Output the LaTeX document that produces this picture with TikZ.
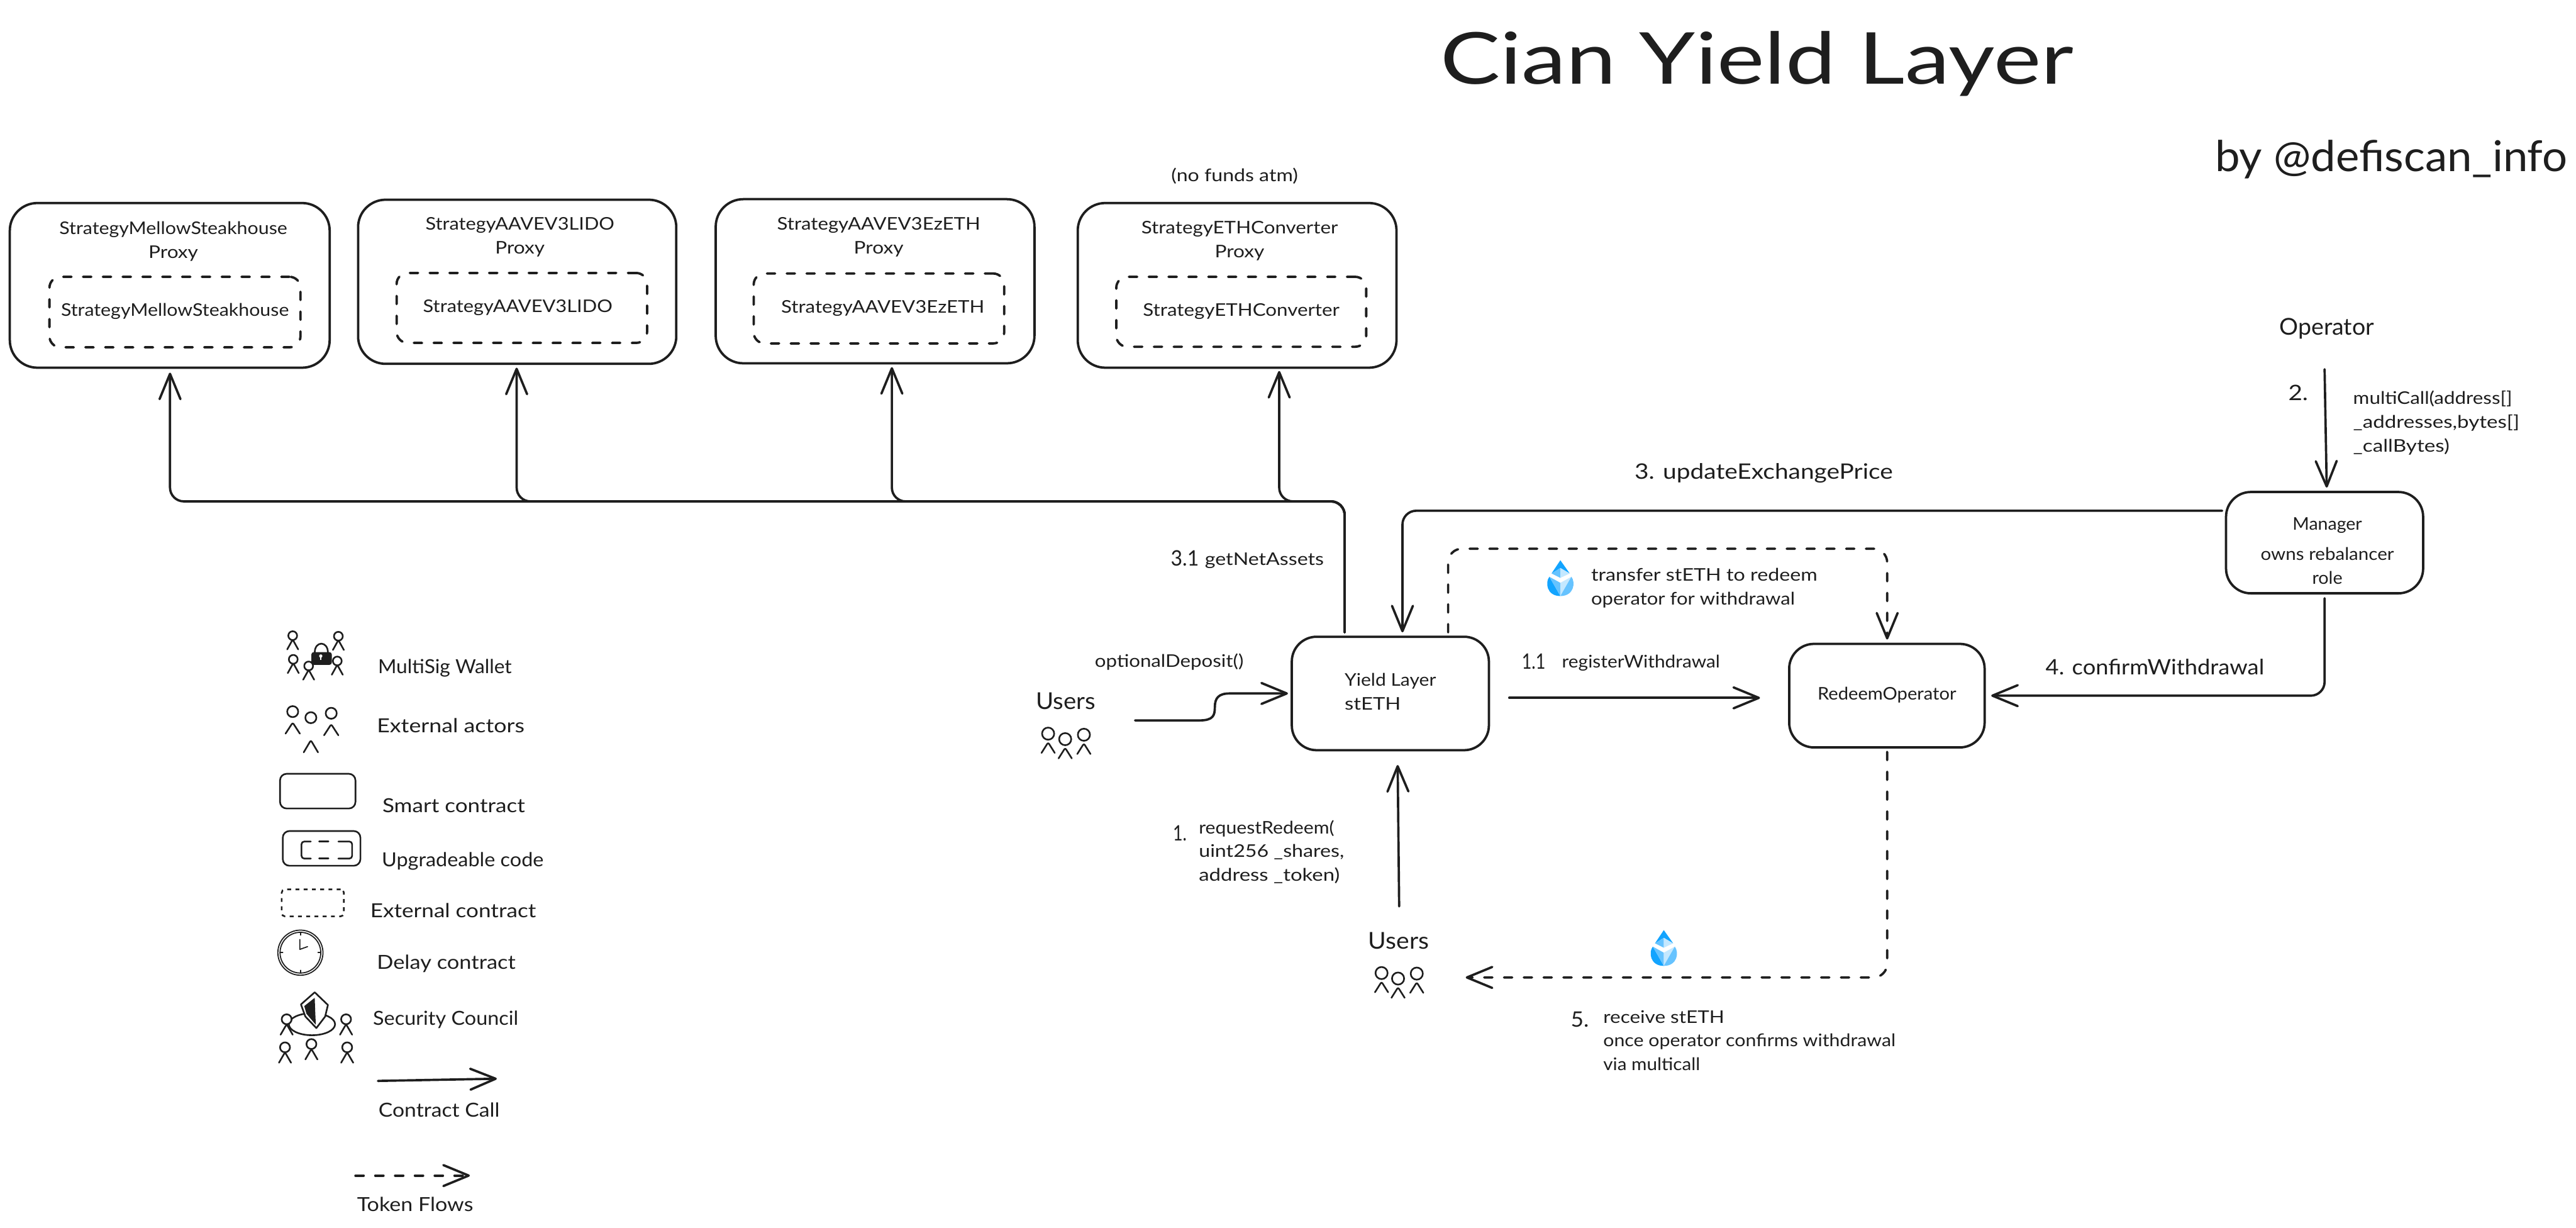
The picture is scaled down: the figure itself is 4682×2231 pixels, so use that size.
\documentclass[tikz,border=0pt]{standalone}
\usepackage{fontspec}
\usepackage{graphicx}
\setmainfont{Lato}
\usetikzlibrary{arrows.meta,calc}
\definecolor{ink}{HTML}{1E1E1E}
\definecolor{dropA}{HTML}{12A4FF}
\definecolor{dropB}{HTML}{66C3FF}
\definecolor{dropC}{HTML}{C4E8FF}
\newcommand\fit[2]{\resizebox{#1}{\height}{\strut #2}}
\newcommand\person[6]{\begin{scope}[shift={(#1,#2)}]
  \draw[icon,rounded corners=0.03cm] (-#6,#5) -- (0,#4) -- (#6,#5);
  \draw[icon,fill=white] (0,0) circle[radius=#3];
\end{scope}}
\newcommand\dropicon[2]{\begin{scope}[shift={(#1,#2)}]
  \fill[dropA] (0,-32) -- (-16,-8) -- (0,-18) -- (17,-8) -- cycle;
  \fill[dropB] (-16,-8) -- (0,-18) -- (0,0) -- cycle;
  \fill[dropC] (0,-18) -- (17,-8) -- (0,0) -- cycle;
  \fill[dropA] (-20,-2) .. controls (-28,8) and (-25,33) .. (0,33) -- cycle;
  \fill[dropB] (-20,-2) -- (0,9) -- (0,33) -- cycle;
  \fill[dropC] (20,-2) -- (0,9) -- (0,33) -- cycle;
  \fill[dropB] (20,-2) .. controls (28,8) and (25,33) .. (0,33) -- cycle;
\end{scope}}
\tikzset{
  tx/.style={inner sep=0pt,outer sep=0pt,text=ink,yshift=-0.05cm},
  f9/.style={font=\fontsize{9}{11.3}\selectfont},
  f10/.style={font=\fontsize{10}{11.4}\selectfont},
  f11/.style={font=\fontsize{11}{12.5}\selectfont},
  f12/.style={font=\fontsize{12}{14}\selectfont},
  box/.style={draw=ink,line width=.043cm,rounded corners=0.45cm,inner sep=0pt,outer sep=0pt,text=ink},
  outerbox/.style={box,rounded corners=0.5cm},
  innerbox/.style={box,rounded corners=0.2cm,line cap=round,dash pattern=on 0.15cm off 0.21cm,font=\fontsize{9}{11.3}\selectfont},
  call/.style={draw=ink,line width=.042cm,line cap=round,line join=round,rounded corners=0.25cm,-{Straight Barb[length=0.46cm,width=0.38cm,round]}},
  flow/.style={call,dash pattern=on 0.15cm off 0.21cm},
  icon/.style={draw=ink,line width=.03cm,line cap=round,line join=round},
  lgbox/.style={box,line width=.03cm},
}
\begin{document}
\begin{tikzpicture}[x=0.01cm,y=-0.01cm]
\fill[white] (0,0) rectangle (4682,2231);
\useasboundingbox (0,0) rectangle (4682,2231);

% title
\node[tx,anchor=base west,font=\fontsize{37}{42}\selectfont] (title) at (2618,148) {\fit{11.5cm}{Cian Yield Layer}};
\node[tx,anchor=base west,font=\fontsize{22}{26}\selectfont] (byline) at (4026,307) {\fit{6.4cm}{by @defiscan\_info}};

% strategy boxes
\node[outerbox,minimum width=5.81cm,minimum height=2.99cm] (s1) at (308.5,518.5) {};
\node[outerbox,minimum width=5.78cm,minimum height=2.98cm] (s2) at (940,512) {};
\node[outerbox,minimum width=5.79cm,minimum height=2.98cm] (s3) at (1590.5,511) {};
\node[outerbox,minimum width=5.79cm,minimum height=2.99cm] (s4) at (2248.5,518.5) {};
\node[innerbox,minimum width=4.56cm,minimum height=1.28cm] (i1) at (318,567) {\raisebox{-0.09cm}{\fit{4.14cm}{StrategyMellowSteakhouse}}};
\node[innerbox,minimum width=4.55cm,minimum height=1.27cm] (i2) at (948.5,559.5) {\fit{3.44cm}{StrategyAAVEV3LIDO}\kern0.15cm};
\node[innerbox,minimum width=4.55cm,minimum height=1.27cm] (i3) at (1597.5,560.5) {\kern0.14cm\fit{3.69cm}{StrategyAAVEV3EzETH}};
\node[innerbox,minimum width=4.54cm,minimum height=1.27cm] (i4) at (2256,566.5) {\fit{3.57cm}{StrategyETHConverter}};
\node[tx,f9,align=center] (p1) at (315,435) {\fit{4.14cm}{StrategyMellowSteakhouse}\\\fit{0.9cm}{Proxy}};
\node[tx,f9,align=center] (p2) at (945,426.5) {\fit{3.43cm}{StrategyAAVEV3LIDO}\\\fit{0.9cm}{Proxy}};
\node[tx,f9,align=center] (p3) at (1597,426.5) {\fit{3.69cm}{StrategyAAVEV3EzETH}\\\fit{0.9cm}{Proxy}};
\node[tx,f9,align=center] (p4) at (2253,433) {\fit{3.57cm}{StrategyETHConverter}\\\fit{0.9cm}{Proxy}};
\node[tx,f9] (nofunds) at (2244,317) {\fit{2.3cm}{(no funds atm)}};

% main boxes
\node[box,f9,align=left,minimum width=3.58cm,minimum height=2.06cm] (yield) at (2527,1260) {\fit{1.66cm}{Yield Layer}\\\fit{1.02cm}{stETH}};
\node[box,f9,minimum width=3.55cm,minimum height=1.88cm] (redeem) at (3429.5,1264) {\fit{2.52cm}{RedeemOperator}};
\node[box,minimum width=3.58cm,minimum height=1.84cm] (mgr) at (4225,986) {};
\node[tx,f9,align=center] (mgrtext) at (4230,999) {\fit{1.26cm}{Manager}\\[3.4pt]\fit{2.42cm}{owns rebalancer}\\\fit{0.55cm}{role}};

% actors
\node[tx,f12,anchor=west] (operator) at (4143,594) {\fit{1.72cm}{Operator}};
\node[tx,f12,anchor=west] (usersA) at (1883,1274) {\fit{1.08cm}{Users}};
\node[tx,f12,anchor=west] (usersB) at (2487,1709) {\fit{1.1cm}{Users}};
\person{1905}{1333}{11}{16}{35}{12}
\person{1936}{1343}{11}{16}{35}{12}
\person{1970}{1335}{11}{16}{35}{12}
\person{2511}{1768}{11}{16}{35}{12}
\person{2541}{1778}{11}{16}{35}{12}
\person{2575}{1769}{11}{16}{35}{12}

% connector coordinates
\coordinate (tA) at (2444,911);
\coordinate (b1) at (309,911);
\coordinate (b2) at (939,911);
\coordinate (b3) at (1621,911);
\coordinate (b4) at (2325,911);
\coordinate (upA) at (2549,928);
\coordinate (dA) at (2632,997);
\coordinate (dB) at (3430,997);
\coordinate (reg) at (3000,1268);
\coordinate (rX) at (3430,1776);
\coordinate (usrB) at (2664,1776);
\coordinate (mC) at (4225,1264);
\coordinate (opOut) at (4225,671);
\coordinate (uA) at (2063,1309);
\coordinate (dep) at (2235,1260);
\coordinate (uB) at (2543,1647);

% connectors
\draw[call,shorten <=0.08cm,shorten >=0.09cm] (tA |- yield.north) -- (tA) -- (b1) -- (b1 |- s1.south);
\draw[call,shorten <=0.08cm,shorten >=0.07cm] (tA |- yield.north) -- (tA) -- (b2) -- (b2 |- s2.south);
\draw[call,shorten <=0.08cm,shorten >=0.07cm] (tA |- yield.north) -- (tA) -- (b3) -- (b3 |- s3.south);
\draw[call,shorten <=0.08cm,shorten >=0.06cm] (tA |- yield.north) -- (tA) -- (b4) -- (b4 |- s4.south);
\draw[call,shorten <=0.07cm,shorten >=0.08cm] (mgr.west |- upA) -- (upA) -- (upA |- yield.north);
\draw[flow,shorten <=0.08cm,shorten >=0.08cm] (dA |- yield.north) -- (dA) -- (dB) -- (dB |- redeem.north);
\draw[call,shorten <=0.37cm,shorten >=0.53cm] (yield.east |- reg) -- (redeem.west |- reg);
\draw[flow,shorten <=0.08cm] (rX |- redeem.south) -- (rX) -- (usrB);
\draw[call,shorten <=0.09cm,shorten >=0.12cm] (mC |- mgr.south) -- (mC) -- (redeem.east |- mC);
\draw[call,shorten >=0.08cm] (opOut) -- ($(mgr.north)+(4,0)$);
\draw[call,shorten >=0.07cm,rounded corners=0pt] (uA) -- (2180,1309) .. controls (2205,1309) and (2208,1300) .. (2208,1285) .. controls (2208,1268) and (2215,1260) .. (dep) -- (yield.west |- dep);
\draw[call,shorten >=0.27cm] (uB) -- ($(yield.south)+(13,0)$);

% connector labels
\node[tx,f11,anchor=west] (lab3) at (2971,857) {\fit{4.69cm}{3. updateExchangePrice}};
\node[tx,f11,anchor=west] (lab4) at (3718,1212) {\fit{3.97cm}{4. confirmWithdrawal}};
\node[tx,f11,anchor=west] (n31) at (2128,1014) {\fit{0.51cm}{3.1}};
\node[tx,f9,anchor=west] (lnet) at (2190,1014) {\fit{2.16cm}{getNetAssets}};
\node[tx,f9,anchor=west] (ldep) at (1990,1199) {\fit{2.7cm}{optionalDeposit()}};
\node[tx,f11,anchor=west] (n1) at (2132,1514) {\fit{0.25cm}{1.}};
\node[tx,f9,align=left,anchor=west] (lreq) at (2179,1545) {\fit{2.46cm}{requestRedeem(}\\\fit{2.64cm}{uint256 \_shares,}\\\fit{2.56cm}{address \_token)}};
\node[tx,f11,anchor=west] (n11) at (2766,1202) {\fit{0.43cm}{1.1}};
\node[tx,f9,anchor=west] (lreg) at (2839,1200) {\fit{2.87cm}{registerWithdrawal}};
\node[tx,f9,align=left,anchor=west] (ltrans) at (2892,1064) {\fit{4.11cm}{transfer stETH to redeem}\\\fit{3.7cm}{operator for withdrawal}};
\node[tx,f11,anchor=west] (n5) at (2855,1852) {\fit{0.33cm}{5.}};
\node[tx,f9,align=left,anchor=west] (lrec) at (2914,1889) {\fit{2.2cm}{receive stETH}\\\fit{5.31cm}{once operator confirms withdrawal}\\\fit{1.76cm}{via multicall}};
\node[tx,f11,anchor=west] (n2) at (4159,714) {\fit{0.36cm}{2.}};
\node[tx,f9,align=left,anchor=west] (lmulti) at (4277,765) {\fit{2.89cm}{multiCall(address[]}\\\fit{3.02cm}{\_addresses,bytes[]}\\\fit{1.75cm}{\_callBytes)}};

% drops
\dropicon{2836}{1050}
\dropicon{3024}{1722}

% legend: multisig
\person{532}{1155}{8}{7}{25}{10}
\person{615}{1156}{8}{7}{25}{10}
\person{533}{1198}{8}{7}{25}{10}
\draw[icon] (572,1186) .. controls (572,1164) and (596,1164) .. (596,1186);
\fill[ink,rounded corners=0.04cm] (566,1185) rectangle (603,1208);
\fill[white] (583,1192) circle[radius=3];
\fill[white] (582,1192) rectangle (584,1199);
\person{561}{1210}{8}{7}{25}{10}
\person{613}{1201}{8}{7}{25}{10}
\node[tx,f10,anchor=west] (lgMulti) at (687,1211) {\fit{2.43cm}{MultiSig Wallet}};

% legend: external actors
\person{532}{1293}{10}{20}{40}{13}
\person{565}{1304}{10}{41}{63}{13}
\person{602}{1296}{10}{20}{40}{13}
\node[tx,f10,anchor=west] (lgExt) at (685,1318) {\fit{2.68cm}{External actors}};

% legend: smart contract
\node[lgbox,rounded corners=0.12cm,minimum width=1.37cm,minimum height=0.63cm] (lgBox) at (577.5,1437.5) {};
\node[tx,f10,anchor=west] (lgSmart) at (695,1463) {\fit{2.59cm}{Smart contract}};

% legend: upgradeable
\node[lgbox,rounded corners=0.12cm,minimum width=1.41cm,minimum height=0.63cm] (lgUp) at (584.5,1541.5) {};
\draw[icon,rounded corners=0.05cm] (565,1529) -- (548,1529) -- (548,1560) -- (565,1560);
\draw[icon] (580,1529) -- (597,1529);
\draw[icon] (580,1560) -- (597,1560);
\draw[icon,rounded corners=0.05cm] (615,1529) -- (640,1529) -- (640,1560) -- (615,1560);
\node[tx,f10,anchor=west] (lgUpT) at (694,1562) {\fit{2.94cm}{Upgradeable code}};

% legend: external contract
\node[lgbox,rounded corners=0.06cm,dash pattern=on 0.07cm off 0.08cm,minimum width=1.13cm,minimum height=0.49cm] (lgDot) at (568.5,1640.5) {};
\node[tx,f10,anchor=west] (lgExtC) at (673,1654) {\fit{3.01cm}{External contract}};

% legend: delay
\draw[draw=ink,line width=.02cm] (546,1731) circle[radius=41];
\draw[draw=ink,line width=.02cm] (546,1731) circle[radius=37];
\draw[icon,line width=.02cm] (546,1694) -- (546,1699) (546,1768) -- (546,1763) (509,1731) -- (514,1731) (583,1731) -- (578,1731);
\draw[icon,line width=.02cm] (545,1707) -- (545,1725) -- (559,1720);
\node[tx,f10,anchor=west] (lgDelay) at (685,1748) {\fit{2.52cm}{Delay contract}};

% legend: security council
\draw[icon] (567,1861) ellipse[x radius=42,y radius=20];
\draw[icon,fill=white] (572,1803) -- (596,1826) -- (591,1847) -- (575,1868) -- (555,1847) -- (547,1825) -- cycle;
\fill[ink] (572,1813) -- (553,1828) -- (557,1842) -- (574,1862) -- (573,1840) -- cycle;
\person{521}{1852}{9}{9}{28}{11}
\person{629}{1852}{9}{9}{28}{11}
\person{518}{1903}{9}{9}{28}{11}
\person{566}{1897}{9}{9}{28}{11}
\person{631}{1903}{9}{9}{28}{11}
\node[tx,f10,anchor=west] (lgSec) at (678,1850) {\fit{2.64cm}{Security Council}};

% legend: arrows
\coordinate (lgA1) at (687,1964);
\coordinate (lgA2) at (903,1960);
\draw[call] (lgA1) -- (lgA2);
\node[tx,f10,anchor=west] (lgCall) at (688,2017) {\fit{2.2cm}{Contract Call}};
\coordinate (lgB1) at (646,2136);
\coordinate (lgB2) at (854,2136);
\draw[flow] (lgB1) -- (lgB2);
\node[tx,f10,anchor=west] (lgFlow) at (649,2188) {\fit{2.11cm}{Token Flows}};
\end{tikzpicture}
\end{document}
